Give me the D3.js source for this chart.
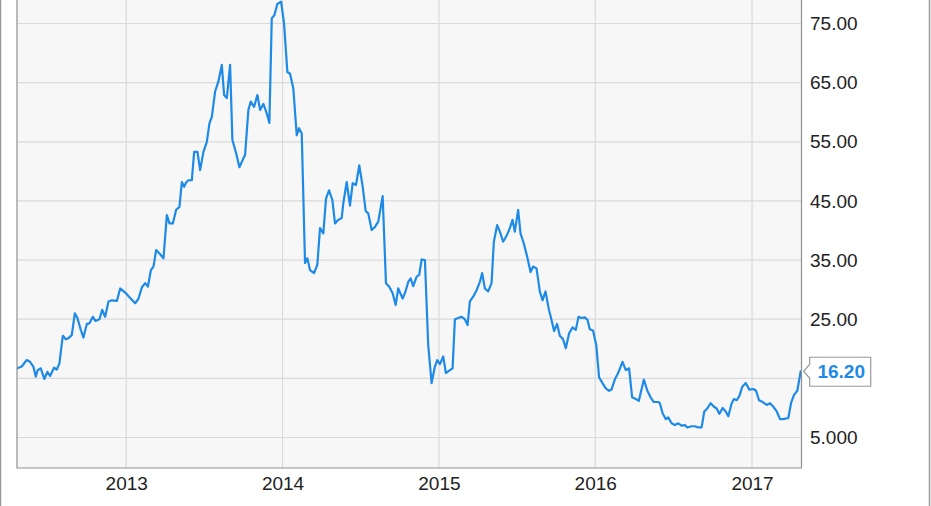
<!DOCTYPE html>
<html><head><meta charset="utf-8">
<script src="https://cdn.jsdelivr.net/npm/d3@7/dist/d3.min.js"></script>
<style>
html,body{margin:0;padding:0;background:#fff;}
svg{display:block;font-family:"Liberation Sans",Arial,sans-serif;}
</style></head>
<body>
<svg id="chart" width="931" height="506"></svg>
<script>
// Decimal-year time stamps and prices
const yearFrac = [
2012.3054,2012.3335,2012.3655,2012.3866,2012.4077,2012.4230,2012.4358,2012.4550,2012.4780,2012.4971,
2012.5144,2012.5399,2012.5572,2012.5738,2012.5955,2012.6147,2012.6313,2012.6530,2012.6722,2012.6888,
2012.7105,2012.7272,2012.7489,2012.7655,2012.7872,2012.8038,2012.8294,2012.8466,2012.8658,2012.8869,
2012.9086,2012.9406,2012.9617,2012.9936,2013.0256,2013.0575,2013.0786,2013.1003,2013.1214,2013.1387,
2013.1578,2013.1744,2013.1917,2013.2128,2013.2383,2013.2601,2013.2767,2013.2984,2013.3195,2013.3406,
2013.3559,2013.3706,2013.3834,2013.3981,2013.4198,2013.4345,2013.4556,2013.4728,2013.4939,2013.5157,
2013.5323,2013.5476,2013.5687,2013.5898,2013.6115,2013.6262,2013.6435,2013.6645,2013.6792,2013.7029,
2013.7240,2013.7393,2013.7604,2013.7815,2013.7968,2013.8179,2013.8390,2013.8562,2013.8773,2013.8990,
2013.9157,2013.9310,2013.9476,2013.9668,2013.9904,2014.0096,2014.0307,2014.0479,2014.0690,2014.0907,
2014.1054,2014.1227,2014.1438,2014.1585,2014.1757,2014.2013,2014.2224,2014.2396,2014.2607,2014.2780,
2014.2971,2014.3182,2014.3355,2014.3565,2014.3783,2014.3885,2014.4102,2014.4313,2014.4486,2014.4696,
2014.4907,2014.5125,2014.5316,2014.5482,2014.5700,2014.5911,2014.6121,2014.6403,2014.6613,2014.6824,
2014.7042,2014.7233,2014.7399,2014.7681,2014.7827,2014.8038,2014.8192,2014.8358,2014.8575,2014.8741,
2014.8895,2014.9105,2014.9316,2014.9533,2014.9744,2014.9891,2015.0064,2015.0275,2015.0447,2015.0658,
2015.0875,2015.1022,2015.1233,2015.1450,2015.1661,2015.1834,2015.1981,2015.2192,2015.2409,2015.2620,
2015.2767,2015.2939,2015.3150,2015.3367,2015.3514,2015.3725,2015.3898,2015.4109,2015.4326,2015.4537,
2015.4709,2015.4856,2015.5067,2015.5220,2015.5431,2015.5642,2015.5860,2015.6026,2015.6243,2015.6454,
2015.6626,2015.6818,2015.7029,2015.7201,2015.7367,2015.7559,2015.7732,2015.7942,2015.8115,2015.8326,
2015.8543,2015.8754,2015.8927,2015.9118,2015.9329,2015.9502,2015.9649,2015.9859,2016.0064,2016.0243,
2016.0460,2016.0671,2016.0882,2016.1035,2016.1246,2016.1457,2016.1738,2016.1949,2016.2160,2016.2351,
2016.2588,2016.2780,2016.3099,2016.3310,2016.3527,2016.3738,2016.4013,2016.4121,2016.4294,2016.4505,
2016.4652,2016.4869,2016.5080,2016.5291,2016.5508,2016.5719,2016.5866,2016.6147,2016.6358,2016.6569,
2016.6786,2016.6952,2016.7144,2016.7361,2016.7572,2016.7744,2016.7911,2016.8128,2016.8319,2016.8486,
2016.8703,2016.8850,2016.9022,2016.9188,2016.9380,2016.9597,2016.9827,2017.0083,2017.0256,2017.0447,
2017.0684,2017.0939,2017.1150,2017.1361,2017.1578,2017.1789,2017.2000,2017.2319,2017.2492,2017.2684,
2017.2895,2017.3112
];
const price = [
16.7,17.0,18.1,17.8,17.0,15.3,16.4,16.7,14.9,16.1,
15.4,16.8,16.5,17.5,22.2,21.6,21.8,22.3,26.0,25.2,
23.2,21.9,24.2,24.3,25.4,24.7,25.0,26.6,25.4,28.0,
28.2,28.1,30.2,29.5,28.6,27.7,28.5,30.4,31.1,30.5,
33.3,33.9,36.7,36.1,35.3,42.6,41.2,41.2,43.5,44.0,
48.2,47.4,48.1,48.5,48.5,53.3,53.3,50.2,53.3,55.0,
58.1,59.2,63.5,65.2,68.0,62.9,62.4,68.0,55.3,53.1,
50.7,51.6,52.8,60.4,61.8,60.9,62.9,60.4,61.4,59.8,
58.2,75.9,76.4,78.3,78.7,75.0,66.8,66.5,64.0,56.1,
57.3,56.4,34.5,35.3,33.3,32.8,34.2,40.4,39.5,45.4,
46.8,45.2,41.2,41.8,42.1,44.6,48.2,44.2,48.0,47.7,
51.0,47.4,43.3,42.9,40.1,40.6,41.5,45.8,31.1,30.5,
29.4,27.4,30.2,28.5,29.4,31.3,31.9,30.6,32.2,32.5,
35.1,35.0,20.6,14.2,17.0,18.1,17.4,18.7,15.9,16.3,
16.7,25.0,25.2,25.4,25.0,24.0,28.0,28.8,29.9,31.3,
32.8,30.2,29.7,31.1,38.1,40.9,39.8,38.1,39.1,40.4,
41.8,39.8,43.5,39.5,37.8,35.6,33.0,33.9,33.6,29.7,
28.2,29.7,26.7,24.9,23.0,24.2,22.2,21.6,20.1,22.6,
23.6,23.2,25.4,25.2,25.3,24.9,23.3,23.1,20.6,15.2,
14.2,13.3,12.9,13.1,14.8,15.9,17.8,16.4,16.7,11.8,
11.5,11.2,14.8,13.0,11.8,11.0,11.0,10.8,9.1,8.1,
8.4,7.4,7.1,7.4,7.0,7.1,6.7,6.9,6.9,6.7,
6.7,9.4,9.9,10.8,10.2,9.9,9.0,10.0,9.4,8.6,
10.8,11.5,11.3,12.0,13.6,14.2,13.1,13.2,12.9,11.3,
11.0,10.5,10.8,10.2,9.4,8.1,8.1,8.3,10.8,12.2,
12.9,16.2
];
const yTicks = [5, 15, 25, 35, 45, 55, 65, 75];   // gridlines
const yLabels = [5, 25, 35, 45, 55, 65, 75];      // 15 is hidden behind the last-value flag
const xStart = 2012.3035, xEnd = 2017.3163;

function decToDate(t){
  const yr = Math.floor(t);
  const a = new Date(yr,0,1), b = new Date(yr+1,0,1);
  return new Date(+a + (t-yr)*(b-a));
}
const data = yearFrac.map((t,i)=>({date:decToDate(t), value:price[i]}));

const svg = d3.select("#chart");
const L = 17, R = 801.5, T = 0, B = 468;

const x = d3.scaleTime().domain([decToDate(xStart), decToDate(xEnd)]).range([L, R]);
const y = d3.scaleLinear().domain([5, 75]).range([437.5, 23.5]);

// outer frame lines
svg.append("line").attr("x1",0.5).attr("x2",0.5).attr("y1",0).attr("y2",506).attr("stroke","#9a9a9a").attr("stroke-width",1.5);
svg.append("line").attr("x1",929.5).attr("x2",929.5).attr("y1",0).attr("y2",506).attr("stroke","#9a9a9a").attr("stroke-width",1.5);

// plot background
svg.append("rect").attr("x",L).attr("y",T).attr("width",R-L).attr("height",B-T).attr("fill","#f7f7f7");

// gridlines
const xt = x.ticks(d3.timeYear.every(1));
svg.append("g").selectAll("line").data(xt).join("line")
  .attr("x1",d=>x(d)).attr("x2",d=>x(d)).attr("y1",T).attr("y2",B)
  .attr("stroke","#dadada").attr("stroke-width",1.2);
svg.append("g").selectAll("line").data(yTicks).join("line")
  .attr("x1",L).attr("x2",R).attr("y1",d=>y(d)).attr("y2",d=>y(d))
  .attr("stroke","#dadada").attr("stroke-width",1.2);

// clip + line
svg.append("clipPath").attr("id","clip").append("rect").attr("x",L).attr("y",T).attr("width",R-L).attr("height",B-T);
svg.append("path").datum(data)
  .attr("clip-path","url(#clip)")
  .attr("fill","none").attr("stroke","#1e8ae8").attr("stroke-width",2.2)
  .attr("stroke-linejoin","round").attr("stroke-linecap","round")
  .attr("d", d3.line().x(d=>x(d.date)).y(d=>y(d.value)));

// plot border (left, bottom, right)
svg.append("path").attr("d",`M${L},${T}V${B}H${R}V${T}`).attr("fill","none").attr("stroke","#8f8f8f").attr("stroke-width",1.2);

// axes
const xAxis = svg.append("g").attr("transform",`translate(0,${B})`)
  .call(d3.axisBottom(x).ticks(d3.timeYear.every(1)).tickFormat(d3.timeFormat("%Y")).tickSize(0).tickPadding(9));
xAxis.select(".domain").remove();
xAxis.selectAll("text").attr("font-size",19).attr("fill","#222").attr("font-family","'Liberation Sans',Arial,sans-serif");

const yAxis = svg.append("g").attr("transform",`translate(${R},0)`)
  .call(d3.axisRight(y).tickValues(yLabels).tickFormat(d3.format(".4r")).tickSize(0).tickPadding(8.5));
yAxis.select(".domain").remove();
yAxis.selectAll("text").attr("font-size",19).attr("fill","#222").attr("font-family","'Liberation Sans',Arial,sans-serif");

// last value callout
const last = data[data.length-1];
const px = x(last.date), py = y(last.value);
const bx0 = px+9, bx1 = px+70, by0 = py-14, by1 = py+15;
svg.append("path")
  .attr("d",`M${bx0},${by0}H${bx1}V${by1}H${bx0}V${py+7}L${px+3},${py}L${bx0},${py-7}Z`)
  .attr("fill","#fff").attr("stroke","#9a9a9a").attr("stroke-width",1.2);
svg.append("text").attr("x",(bx0+bx1)/2+1).attr("y",py).attr("dy","0.36em")
  .attr("text-anchor","middle").attr("font-size",19).attr("font-weight","bold")
  .attr("fill","#1e8ae8").attr("font-family","'Liberation Sans',Arial,sans-serif")
  .text(d3.format(".2f")(last.value));
</script>
</body></html>
